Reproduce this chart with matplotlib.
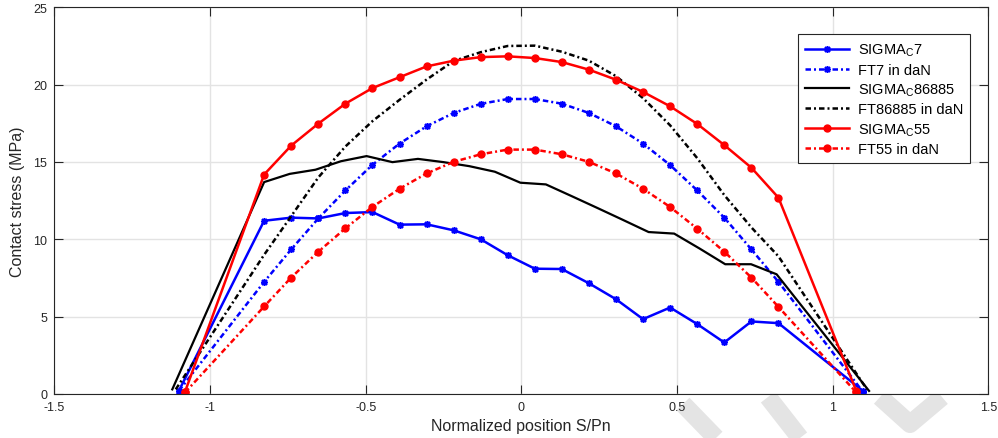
import matplotlib
matplotlib.use('Agg')
import matplotlib.pyplot as plt
from matplotlib.lines import Line2D

plt.rcParams['font.family'] = ['Liberation Sans', 'DejaVu Sans']
plt.rcParams['mathtext.fontset'] = 'custom'
plt.rcParams['mathtext.rm'] = 'Liberation Sans'
plt.rcParams['mathtext.it'] = 'Liberation Sans'

# ---------------- data ----------------
inner_x = [-0.826, -0.739, -0.652, -0.565, -0.478, -0.391, -0.304, -0.217, -0.130, -0.0435,
           0.0435, 0.130, 0.217, 0.304, 0.391, 0.478, 0.565, 0.652, 0.739, 0.826]

x_sig7 = [-1.100] + inner_x + [1.097]
y_sig7 = [0.2, 11.2, 11.4, 11.35, 11.7, 11.76, 10.95, 10.97, 10.58, 10.0, 8.97,
          8.1, 8.08, 7.16, 6.13, 4.84, 5.59, 4.52, 3.33, 4.69, 4.58, 0.2]

x_ft7 = [-1.100] + inner_x + [1.097]
y_ft7 = [0.2, 7.25, 9.35, 11.35, 13.16, 14.82, 16.19, 17.31, 18.17, 18.76, 19.07,
         19.07, 18.77, 18.17, 17.31, 16.19, 14.8, 13.16, 11.4, 9.35, 7.25, 0.15]

x_sig86885 = [-1.121, -0.826, -0.744, -0.661, -0.579, -0.497, -0.414, -0.332, -0.250, -0.167,
              -0.085, -0.003, 0.079, 0.162, 0.244, 0.326, 0.409, 0.491, 0.573, 0.655,
              0.738, 0.820, 1.117]
y_sig86885 = [0.3, 13.7, 14.23, 14.5, 15.05, 15.38, 14.99, 15.2, 14.99, 14.73, 14.37,
              13.66, 13.55, 12.79, 12.03, 11.26, 10.47, 10.37, 9.4, 8.39, 8.39, 7.74, 0.2]

x_ft86885 = [-1.110] + inner_x + [1.110]
y_ft86885 = [0.3, 9.0, 11.5, 14.0, 16.0, 17.64, 19.02, 20.33, 21.53, 22.1, 22.5,
             22.52, 22.13, 21.55, 20.55, 19.13, 17.37, 15.25, 12.86, 10.77, 8.9, 0.3]

x_sig55 = [-1.080] + inner_x + [1.076]
y_sig55 = [0.15, 14.19, 16.06, 17.48, 18.77, 19.78, 20.48, 21.18, 21.55, 21.78, 21.83,
           21.72, 21.46, 20.97, 20.32, 19.53, 18.6, 17.46, 16.09, 14.63, 12.69, 0.2]

x_ft55 = [-1.080] + inner_x + [1.076]
y_ft55 = [0.1, 5.66, 7.53, 9.2, 10.71, 12.1, 13.27, 14.26, 15.01, 15.5, 15.8,
          15.8, 15.5, 15.01, 14.26, 13.27, 12.09, 10.69, 9.2, 7.53, 5.63, 0.1]

labels = ['SIGMA$_{\\mathrm{C}}$7', 'FT7 in daN', 'SIGMA$_{\\mathrm{C}}$86885',
          'FT86885 in daN', 'SIGMA$_{\\mathrm{C}}$55', 'FT55 in daN']
x_ticks = [-1.5, -1, -0.5, 0, 0.5, 1, 1.5]
x_ticklabels = ['-1.5', '-1', '-0.5', '0', '0.5', '1', '1.5']
y_ticks = [0, 5, 10, 15, 20, 25]

# ---------------- figure ----------------
W, H = 998, 439
fig = plt.figure(figsize=(W / 100, H / 100), dpi=100)
ax = fig.add_axes([54.3 / W, (H - 395) / H, (988.3 - 54.3) / W, (395 - 8.3) / H])

dashdot = (0, (2.2, 1.2, 0.8, 1.2))
star = (8, 2, 0)
lw = 1.8
ax.plot(x_sig7, y_sig7, color='#0000ff', lw=lw, marker=star, ms=5, mew=1.1, label=labels[0])
ax.plot(x_ft7, y_ft7, color='#0000ff', lw=lw, ls=dashdot, marker=star, ms=5, mew=1.1, label=labels[1])
ax.plot(x_sig86885, y_sig86885, color='black', lw=1.6, label=labels[2])
ax.plot(x_ft86885, y_ft86885, color='black', lw=lw, ls=dashdot, label=labels[3])
ax.plot(x_sig55, y_sig55, color='#ff0000', lw=lw, marker='o', ms=5, label=labels[4])
ax.plot(x_ft55, y_ft55, color='#ff0000', lw=lw, ls=dashdot, marker='o', ms=5, label=labels[5])

ax.set_xlim(-1.5, 1.5)
ax.set_ylim(0, 25)
ax.set_xticks(x_ticks)
ax.set_xticklabels(x_ticklabels)
ax.set_yticks(y_ticks)
ax.grid(True, color='#e3e3e3', lw=1.0)
ax.set_axisbelow(True)
ax.tick_params(direction='in', length=6.5, width=0.8, top=True, right=True,
               labelsize=9, colors='#262626', pad=5)
for s in ax.spines.values():
    s.set_linewidth(0.8)
    s.set_color('#262626')

ax.set_xlabel('Normalized position S/Pn', fontsize=11.5, color='#262626', labelpad=4)
ax.set_ylabel('Contact stress (MPa)', fontsize=11.5, color='#262626', labelpad=6)

leg = ax.legend(loc='upper right', bbox_to_anchor=(0.9807, 0.930), borderaxespad=0,
                fontsize=10.5, handlelength=3.0, labelspacing=0.32, fancybox=False,
                framealpha=1, edgecolor='#262626', borderpad=0.5, handletextpad=0.6)
leg.get_frame().set_linewidth(0.8)

# faint watermark strokes (pixel coordinates)
def px_line(pts, w=13):
    xs = [p[0] / W for p in pts]
    ys = [(H - p[1]) / H for p in pts]
    fig.add_artist(Line2D(xs, ys, transform=fig.transFigure, color='#e4e4e4',
                          lw=w, solid_capstyle='butt', zorder=-1))

px_line([(683, 405), (716, 439)])
px_line([(768, 398), (800, 439)])
px_line([(880, 398), (910, 425), (942, 398)])
px_line([(945, 298), (980, 345)])

fig.savefig('out.png', dpi=100)
